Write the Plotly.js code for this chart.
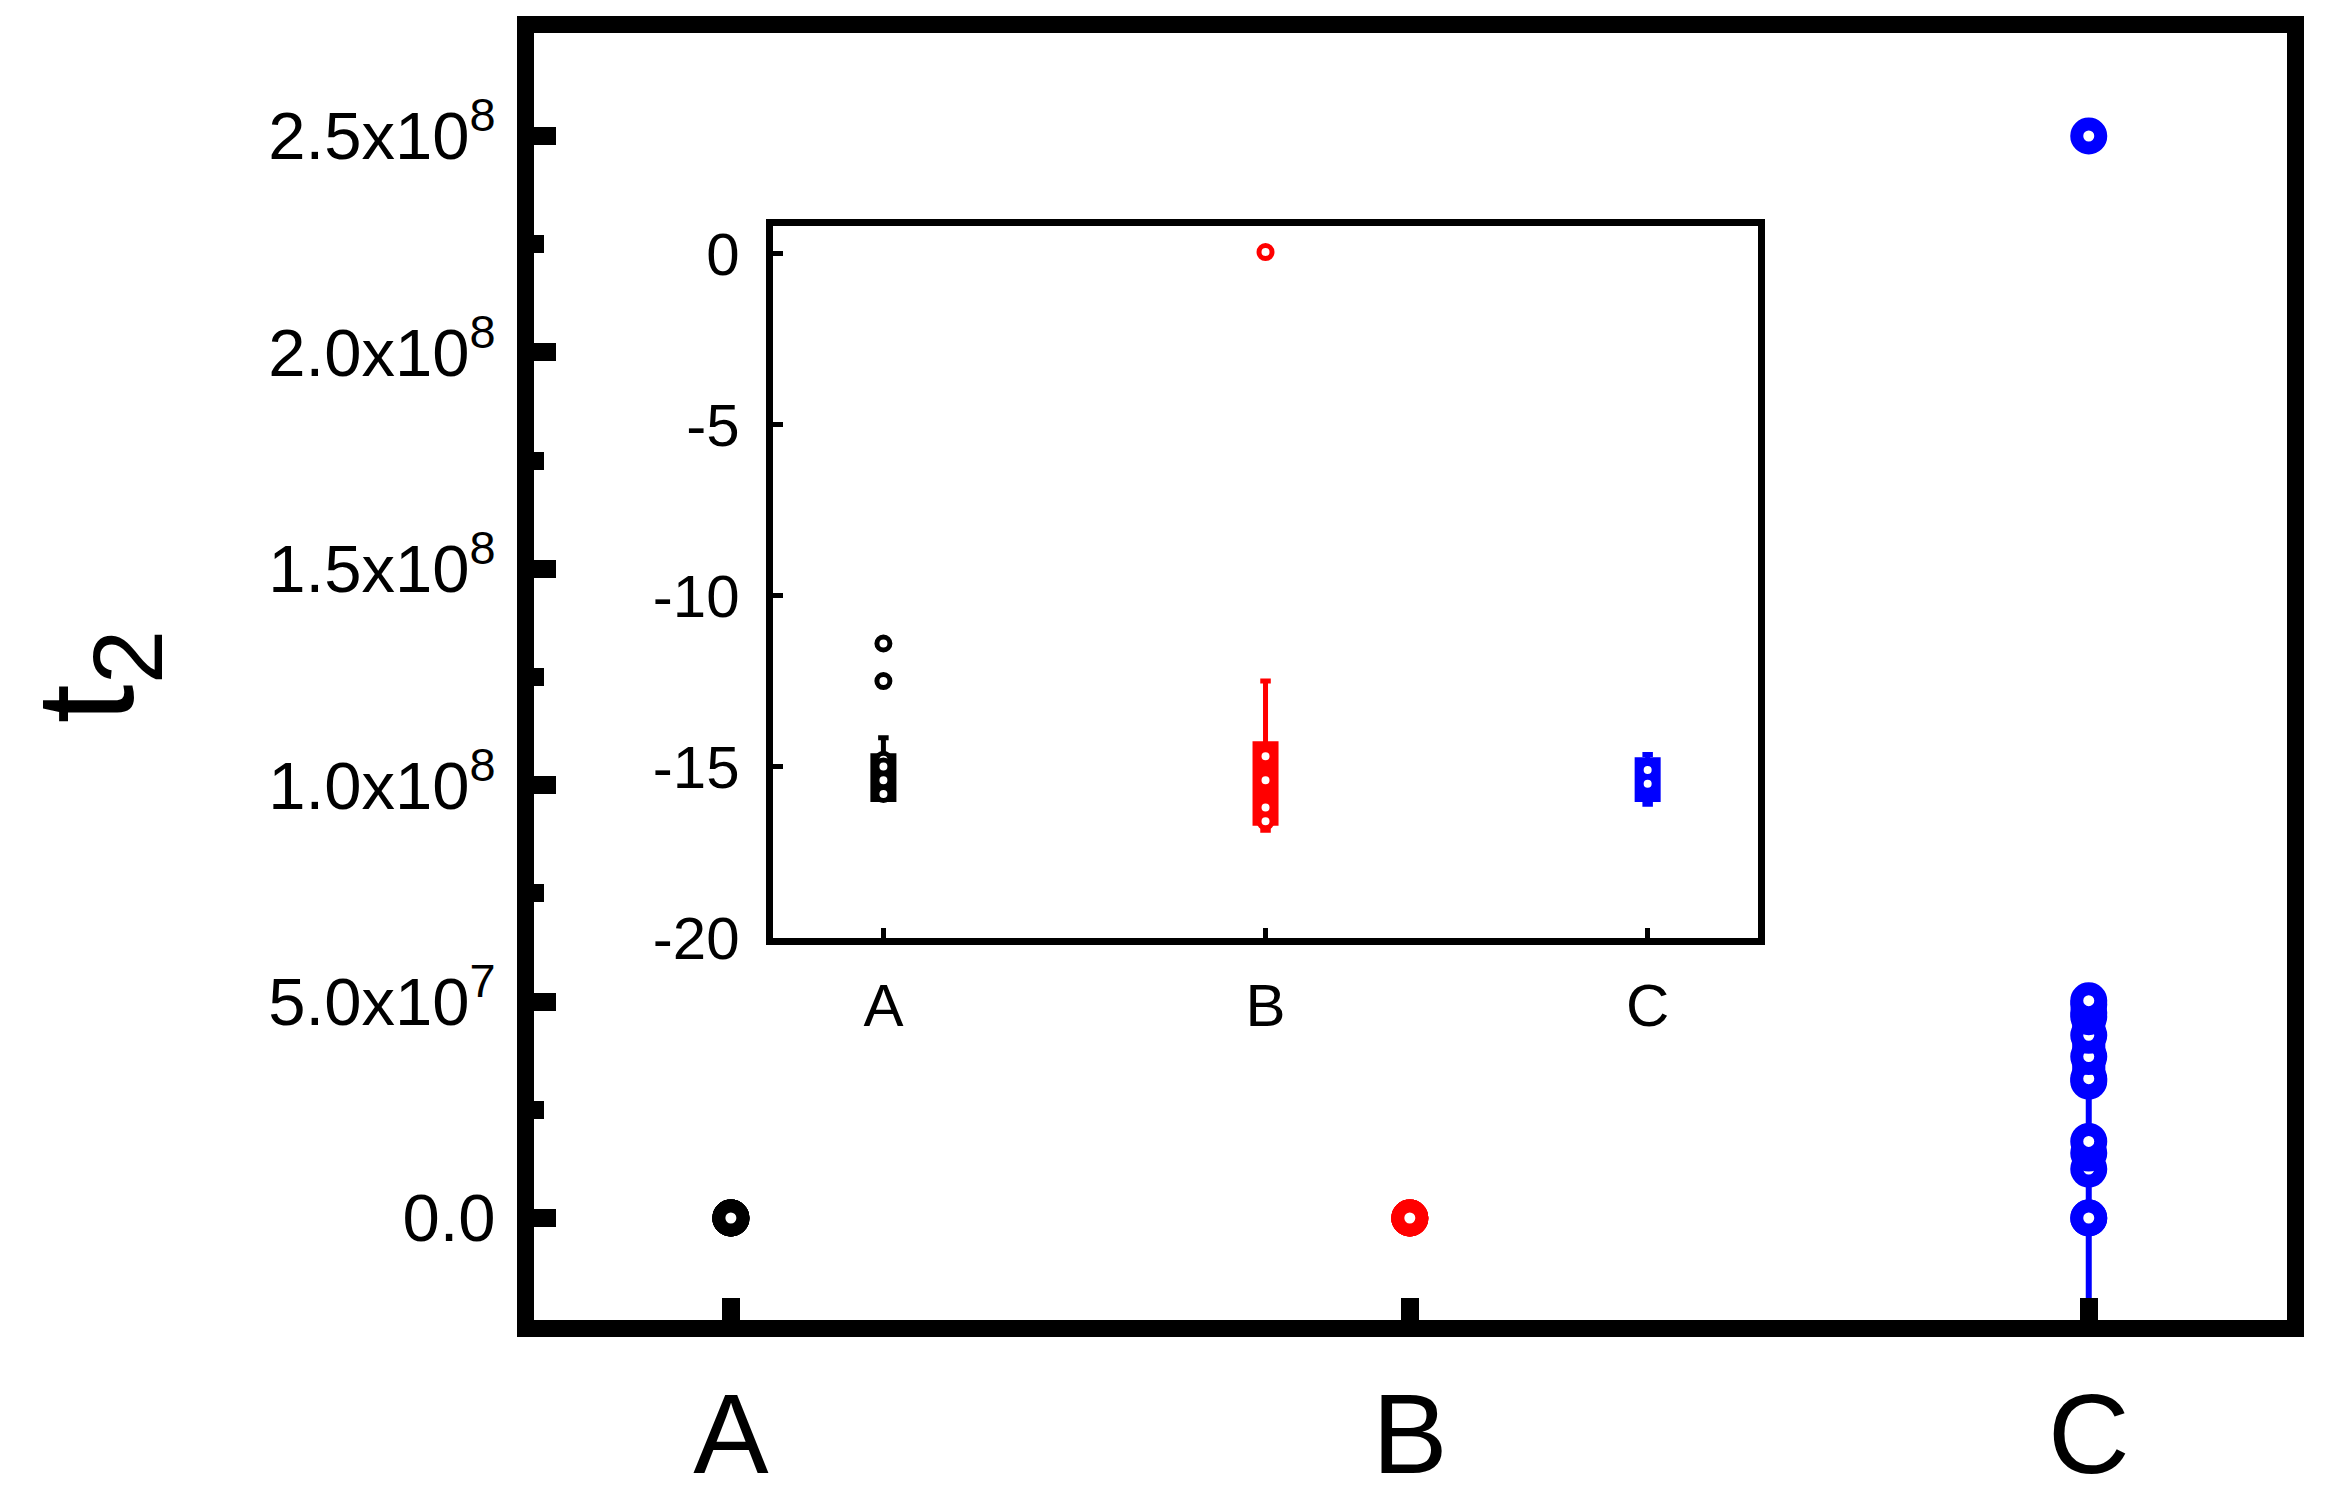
<!DOCTYPE html>
<html><head><meta charset="utf-8">
<script src="https://cdn.plot.ly/plotly-3.0.1.min.js"></script>
<style>html,body{margin:0;padding:0;background:#fff}#chart{width:2331px;height:1497px}</style>
</head><body><div id="chart"></div>
<script>
// ---- data ----
const categories = ['A', 'B', 'C'];
const catPos = [0, 1, 2];
const colors = ['#000000', '#ff0000', '#0000ff'];

// inset: raw points per group
const insetA = [-11.4, -12.5, -14.8, -15.0, -15.4, -15.8];
const insetB = [0.05, -14.7, -15.4, -16.2, -16.6];
const insetC = [-15.1, -15.5];

// inset: box statistics per group (A, B, C)
const insetQ1 = [-15.96, -16.66, -15.96];
const insetMedian = [-15.3, -15.5, -15.3];
const insetQ3 = [-14.68, -14.33, -14.8];
const insetLower = [-15.96, -16.86, -16.1];
const insetUpper = [-14.16, -12.5, -14.65];

// main chart: raw points per group
const mainA = [-11.4, -12.5, -14.8, -15.0, -15.4, -15.8];
const mainB = [0.05, -14.7, -15.4, -16.2, -16.6];
const mainC = [-15.1, -15.5, 1.13e7, 1.5e7, 1.77e7, 3.16e7, 3.22e7, 3.73e7, 4.22e7, 4.65e7, 4.74e7, 4.93e7, 5.02e7, 2.5e8];

// main chart: box statistics for group C
const mainCQ1 = [3.2e7];
const mainCMedian = [4.2e7];
const mainCQ3 = [4.9e7];
const mainCLower = [-3.5e7];
const mainCUpper = [5.0e7];

// tick labels
const mainYTickVals = [0, 5e7, 1e8, 1.5e8, 2e8, 2.5e8];
const mainYTickText = ['0.0', '5.0x10<sup>7</sup>', '1.0x10<sup>8</sup>', '1.5x10<sup>8</sup>', '2.0x10<sup>8</sup>', '2.5x10<sup>8</sup>'];
const mainYMinorVals = [2.5e7, 7.5e7, 1.25e8, 1.75e8, 2.25e8];
const insetYTickVals = [0, -5, -10, -15, -20];
const insetYTickText = ['0', '-5', '-10', '-15', '-20'];

// ---- build ----
const FONT = 'Arial, "Liberation Sans", sans-serif';
const traces = [];

const mainGroups = [mainA, mainB, mainC];
const insetGroups = [insetA, insetB, insetC];

// main box for C
traces.push({
  type: 'box', x: [catPos[2]], q1: mainCQ1, median: mainCMedian, q3: mainCQ3,
  lowerfence: mainCLower, upperfence: mainCUpper, width: 0.04, whiskerwidth: 0,
  line: {color: colors[2], width: 6}, fillcolor: colors[2], boxpoints: false,
  xaxis: 'x', yaxis: 'y', showlegend: false, hoverinfo: 'skip'
});
mainGroups.forEach((vals, i) => {
  traces.push({
    type: 'scatter', mode: 'markers', x: vals.map(() => catPos[i]), y: vals,
    marker: {symbol: 'circle', size: 24, color: '#ffffff', line: {color: colors[i], width: 13}},
    xaxis: 'x', yaxis: 'y', showlegend: false, hoverinfo: 'skip'
  });
});

// inset boxes and points
insetGroups.forEach((vals, i) => {
  traces.push({
    type: 'box', x: [catPos[i]], q1: [insetQ1[i]], median: [insetMedian[i]], q3: [insetQ3[i]],
    lowerfence: [insetLower[i]], upperfence: [insetUpper[i]], width: 0.055, whiskerwidth: 0.5,
    line: {color: colors[i], width: 5}, fillcolor: colors[i], boxpoints: false,
    xaxis: 'x2', yaxis: 'y2', showlegend: false, hoverinfo: 'skip'
  });
  traces.push({
    type: 'scatter', mode: 'markers', x: vals.map(() => catPos[i]), y: vals,
    marker: {symbol: 'circle', size: 13, color: '#ffffff', line: {color: colors[i], width: 5}},
    xaxis: 'x2', yaxis: 'y2', showlegend: false, hoverinfo: 'skip'
  });
});

const layout = {
  width: 2331, height: 1497,
  margin: {l: 534, r: 44, t: 33, b: 177, pad: 0},
  paper_bgcolor: '#ffffff', plot_bgcolor: '#ffffff',
  font: {family: FONT, color: '#000000'},
  showlegend: false,
  xaxis: {
    domain: [0, 1], range: [-0.29, 2.292], tickmode: 'array', tickvals: catPos, ticktext: categories,
    ticks: 'inside', ticklen: 22, tickwidth: 18, tickcolor: '#000',
    showline: true, linewidth: 17, linecolor: '#000', mirror: true,
    showgrid: false, zeroline: false, tickfont: {size: 113, family: FONT}, ticklabelstandoff: 0
  },
  yaxis: {
    domain: [0, 1], range: [-2.357e7, 2.738e8], tickmode: 'array', tickvals: mainYTickVals, ticktext: mainYTickText,
    ticks: 'inside', ticklen: 22, tickwidth: 18, tickcolor: '#000',
    minor: {tickmode: 'array', tickvals: mainYMinorVals, ticks: 'inside', ticklen: 10, tickwidth: 18, tickcolor: '#000', showgrid: false},
    showline: true, linewidth: 17, linecolor: '#000', mirror: true,
    showgrid: false, zeroline: false, tickfont: {size: 67, family: FONT}, ticklabelstandoff: 8,
    title: {text: 't<sub>2</sub>', font: {size: 140, family: FONT}, standoff: 95}
  },
  xaxis2: {
    domain: [0.1361, 0.6985], anchor: 'y2', range: [-0.29, 2.29], tickmode: 'array', tickvals: catPos, ticktext: categories,
    ticks: 'inside', ticklen: 10, tickwidth: 5, tickcolor: '#000',
    showline: true, linewidth: 7, linecolor: '#000', mirror: true,
    showgrid: false, zeroline: false, tickfont: {size: 60, family: FONT}, ticklabelstandoff: 9
  },
  yaxis2: {
    domain: [0.2972, 0.8497], anchor: 'x2', range: [-20, 0.8], tickmode: 'array', tickvals: insetYTickVals, ticktext: insetYTickText,
    ticks: 'inside', ticklen: 10, tickwidth: 5, tickcolor: '#000',
    showline: true, linewidth: 7, linecolor: '#000', mirror: true,
    showgrid: false, zeroline: false, tickfont: {size: 60, family: FONT}, ticklabelstandoff: 14
  }
};

Plotly.newPlot('chart', traces, layout, {staticPlot: true, displayModeBar: false});
</script>
</body></html>
